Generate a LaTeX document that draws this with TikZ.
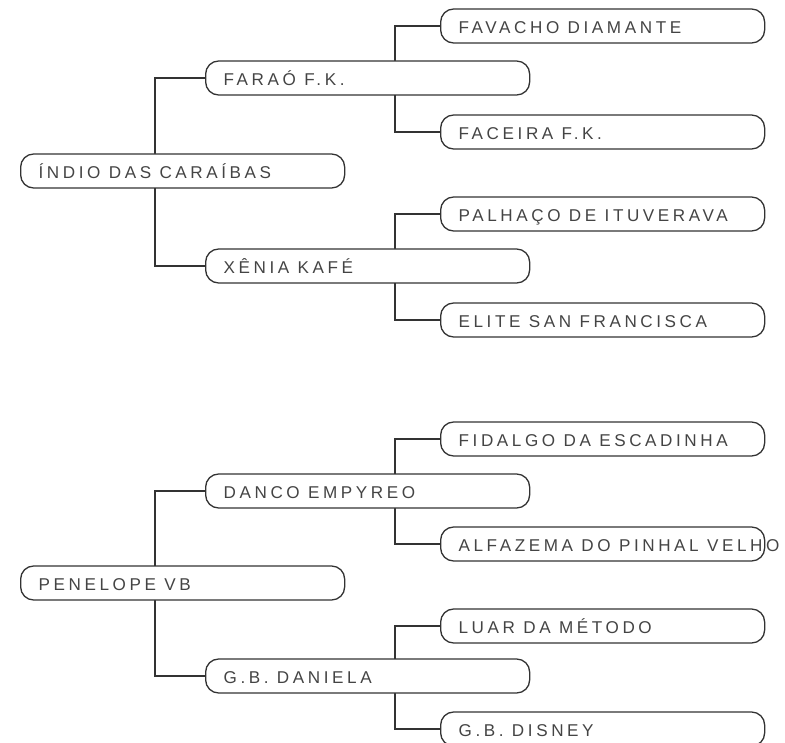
\documentclass[tikz,border=0pt]{standalone}
\usepackage{fontspec}
\setmainfont{Liberation Sans}[LetterSpace=21]
\usetikzlibrary{positioning}
\pgfdeclarelayer{bg}
\pgfsetlayers{bg,main}
\definecolor{linec}{HTML}{333333}
\definecolor{textc}{HTML}{444444}
\newcommand{\lbl}[1]{\makebox[288pt][l]{#1}}
\tikzset{
  pill/.style={draw=linec, line width=1.3pt, fill=white, rounded corners=13pt,
    minimum height=34pt, inner xsep=18pt, inner ysep=0pt, anchor=west,
    text=textc, text height=15pt, text depth=0pt,
    font=\fontsize{17.1}{20}\selectfont},
  conn/.style={draw=linec, line width=1.1pt}
}
\begin{document}
\begin{tikzpicture}[x=1pt,y=-1pt]
\useasboundingbox (0,0) rectangle (785,743);
% group 1
\node[pill] (root1) at (20,171) {\lbl{ÍNDIO DAS CARAÍBAS}};
\node[pill] (farao) at (205,78) {\lbl{FARAÓ F.K.}};
\node[pill] (favacho) at (440,26) {\lbl{FAVACHO DIAMANTE}};
\node[pill] (faceira) at (440,132) {\lbl{FACEIRA F.K.}};
\node[pill] (xenia) at (205,266) {\lbl{XÊNIA KAFÉ}};
\node[pill] (palhaco) at (440,214) {\lbl{PALHAÇO DE ITUVERAVA}};
\node[pill] (elite) at (440,320) {\lbl{ELITE SAN FRANCISCA}};
% group 2
\node[pill] (root2) at (20,583) {\lbl{PENELOPE VB}};
\node[pill] (danco) at (205,491) {\lbl{DANCO EMPYREO}};
\node[pill] (fidalgo) at (440,439) {\lbl{FIDALGO DA ESCADINHA}};
\node[pill] (alfazema) at (440,544) {\lbl{ALFAZEMA DO PINHAL VELHO}};
\node[pill] (daniela) at (205,676) {\lbl{G.B. DANIELA}};
\node[pill] (luar) at (440,626) {\lbl{LUAR DA MÉTODO}};
\node[pill] (disney) at (440,729) {\lbl{G.B. DISNEY}};
\begin{pgfonlayer}{bg}
\draw[conn] (farao.west) -- ++(-50,0) |- (xenia.west);
\draw[conn] (favacho.west) -- ++(-45,0) |- (faceira.west);
\draw[conn] (palhaco.west) -- ++(-45,0) |- (elite.west);
\draw[conn] (danco.west) -- ++(-50,0) |- (daniela.west);
\draw[conn] (fidalgo.west) -- ++(-45,0) |- (alfazema.west);
\draw[conn] (luar.west) -- ++(-45,0) |- (disney.west);
\end{pgfonlayer}
\end{tikzpicture}
\end{document}
